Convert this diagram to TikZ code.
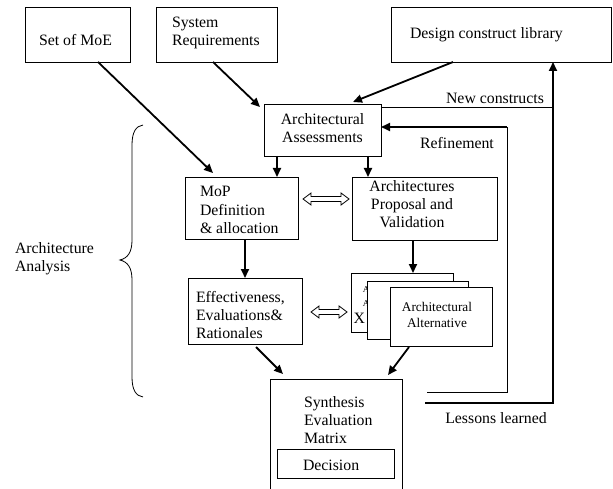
\documentclass[tikz,border=0pt]{standalone}
\usepackage{fontspec}
\setmainfont{Liberation Serif}
\usetikzlibrary{arrows.meta,calc}
\newcommand\hollowarr[2]{\path[draw, line width=0.8pt, fill=white] let \p1=#1, \p2=#2 in (\x1,\y1) -- (\x1+8pt,\y1+6pt) -- (\x1+8pt,\y1+2.5pt) -- (\x2-8pt,\y1+2.5pt) -- (\x2-8pt,\y1+6pt) -- (\x2,\y1) -- (\x2-8pt,\y1-6pt) -- (\x2-8pt,\y1-2.5pt) -- (\x1+8pt,\y1-2.5pt) -- (\x1+8pt,\y1-6pt) -- cycle;}
\begin{document}
\begin{tikzpicture}[x=1pt,y=-1pt,
  box/.style={draw, line width=0.9pt, inner sep=0pt, outer sep=0pt, fill=white},
  txt/.style={inner sep=0pt, outer sep=0pt, font=\fontsize{15.8}{18.3}\selectfont},
  smalltxt/.style={inner sep=0pt, outer sep=0pt, font=\fontsize{13.3}{16}\selectfont},
  tinytxt/.style={inner sep=0pt, outer sep=0pt, font=\fontsize{9}{10}\selectfont},
  thickarr/.style={line width=1.8pt, -{Triangle[length=9pt,width=8pt]}},
  thickline/.style={line width=1.8pt},
  thinline/.style={line width=0.9pt}]
\useasboundingbox (0,0) rectangle (613,489);
\clip (0,0) rectangle (613,489);
\fill[white] (0,0) rectangle (613,489);

% top boxes
\node[box,minimum width=105pt,minimum height=55pt] (moe) at (77.5,34.5) {};
\node[txt] (moet) at (75.5,40) {Set of MoE};
\node[box,minimum width=121pt,minimum height=55pt] (sys) at (216.5,34.5) {};
\node[txt,align=left,anchor=west] (syst) at (172,33) {System\\Requirements};
\node[box,minimum width=220pt,minimum height=55pt] (dcl) at (501,34.5) {};
\node[txt,anchor=west] (dclt) at (410,35) {Design construct library};

% assessments
\node[box,minimum width=117pt,minimum height=52pt] (aa) at (322.5,130) {};
\node[txt,align=center] (aat) at (322.5,128) {Architectural\\Assessments};

% MoP and proposal
\node[box,minimum width=113pt,minimum height=62pt] (mop) at (241.5,208) {};
\node[txt,align=left,anchor=west] (mopt) at (200,210) {MoP\\Definition\\\& allocation};
\node[box,minimum width=145pt,minimum height=63pt] (ap) at (424.5,208.5) {};
\node[txt,align=center] (apt) at (412,204) {Architectures\\Proposal and\\Validation};

% effectiveness
\node[box,minimum width=114pt,minimum height=66pt] (eff) at (245,311) {};
\node[txt,align=left,anchor=west] (efft) at (196,315) {Effectiveness,\\Evaluations\&\\Rationales};

% stacked alternatives
\node[box,minimum width=102pt,minimum height=59pt] (alt1) at (402,302.5) {};
\node[tinytxt] (frA1) at (366,290) {A};
\node[tinytxt] (frA2) at (366,304) {A};
\node[txt,anchor=west] (frX) at (353.5,318) {X};
\node[box,minimum width=101pt,minimum height=58pt] (alt2) at (417.5,310) {};
\node[box,minimum width=102pt,minimum height=59pt] (alt3) at (441,316.5) {};
\node[smalltxt,align=center] (alt3t) at (437,315) {Architectural\\Alternative};

% synthesis
\node[box,minimum width=132pt,minimum height=122pt] (syn) at (336,440) {};
\node[txt,align=left,anchor=west] (synt) at (304,420) {Synthesis\\Evaluation\\Matrix};
\node[box,minimum width=117pt,minimum height=29pt] (dec) at (335.5,463.5) {};
\node[txt,anchor=west] (dect) at (303,465) {Decision};

% brace and side label
\draw[line width=0.8pt] (143,125) .. controls (136,126) and (132,132) .. (132,145) -- (132,240) .. controls (132,252) and (128,258) .. (120,260) .. controls (128,262) and (132,268) .. (132,280) -- (132,377) .. controls (132,390) and (136,396) .. (143,397);
\node[txt,align=left,anchor=west] (aanal) at (15,258.5) {Architecture\\Analysis};

% feedback labels
\node[txt] (nclab) at (495,98) {New constructs};
\node[txt] (rflab) at (457,143) {Refinement};
\node[txt] (lllab) at (496,418) {Lessons learned};

% arrows
\draw[thickarr] ([xshift=20.5pt]moe.south) -- ([xshift=-28.5pt,yshift=4pt]mop.north);
\draw[thickarr] ([xshift=-3.5pt]sys.south) -- ([xshift=-4pt,yshift=-3pt]aa.north west);
\draw[thickarr] ([xshift=-48pt]dcl.south) -- ([xshift=30.5pt,yshift=2pt]aa.north);

\coordinate (a1) at ($(aa.south)+(-45.5,0)$);
\coordinate (a2) at ($(aa.south)+(45.5,0)$);
\draw[thickarr] (a1) -- (a1 |- mop.north);
\draw[thickarr] (a2) -- (a2 |- ap.north);
\draw[thickarr] (mop.south -| eff.north) -- (eff.north);
\coordinate (a3) at ($(ap.south)+(-11.5,0)$);
\draw[thickarr] (a3) -- (a3 |- alt1.north);

\draw[thickarr] ([xshift=11pt,yshift=-3pt]eff.south) -- ([xshift=-53pt,yshift=5pt]syn.north);
\draw[thickarr] ([xshift=-32pt,yshift=-1pt]alt3.south) -- ([xshift=52pt,yshift=4pt]syn.north);

\hollowarr{($(mop.east)+(5,-9)$)}{($(ap.west)+(-3,-9)$)}
\hollowarr{($(eff.east)+(9,1)$)}{($(alt1.west)+(-4,0)$)}

% feedback loops
\coordinate (llstart) at (425,403);
\coordinate (llcorner) at (553,403);
\coordinate (ncstart) at ($(aa.north east)+(0,3)$);
\draw[thickarr] (llstart) -- (llcorner) -- (llcorner |- dcl.south);
\draw[thinline] (ncstart) -- (ncstart -| llcorner);

\coordinate (rfstart) at (427,392);
\coordinate (rfcorner) at (507,392);
\coordinate (rftop) at (507,127);
\draw[thinline] (rfstart) -- (rfcorner) -- (rftop);
\draw[thickarr] (rftop) -- (rftop -| aa.east);
\end{tikzpicture}
\end{document}
